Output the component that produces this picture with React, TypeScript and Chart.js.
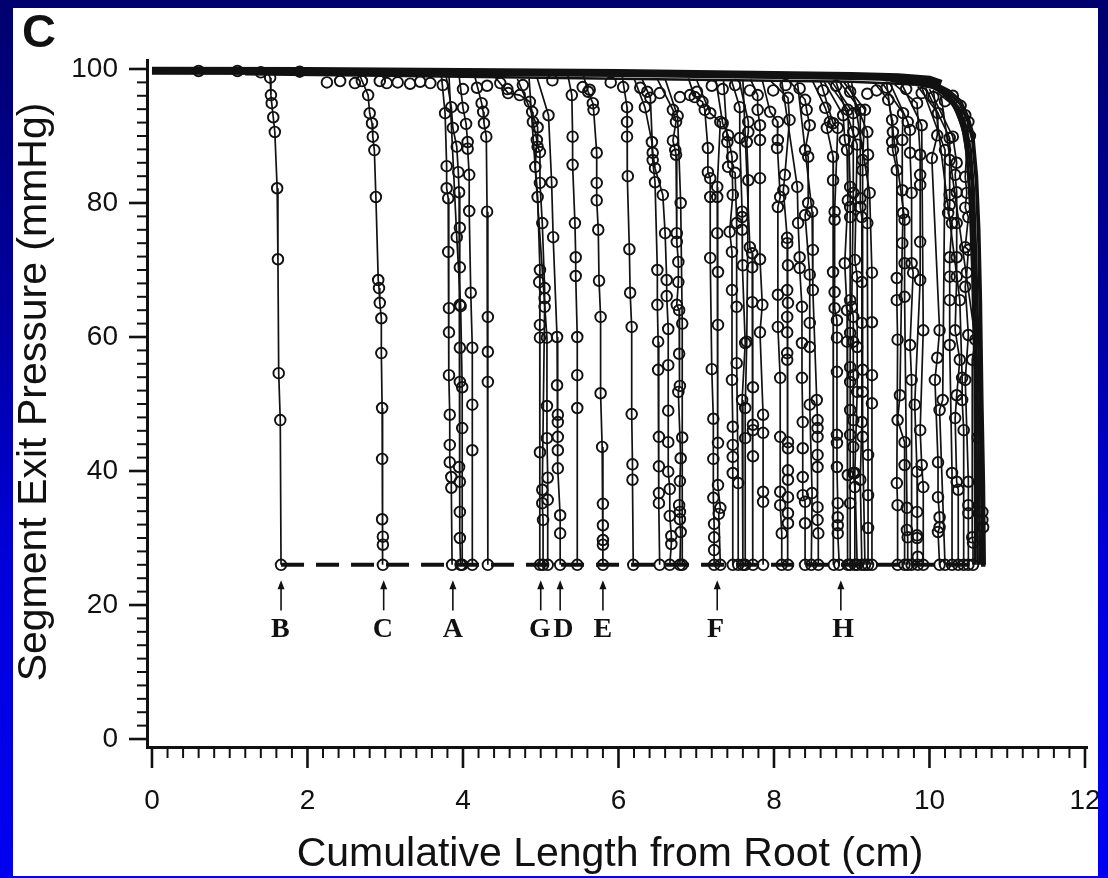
import React, { useEffect, useRef } from 'react';
import { Chart, registerables } from 'chart.js';
Chart.register(...registerables);

type Pt = [number, number];

const xTickLabels = [0, 2, 4, 6, 8, 10, 12];
const yTickLabels = [0, 20, 40, 60, 80, 100];
const xMinorStep = 0.2;
const yMinorStep = 2;

const arrowLetters = ['B', 'C', 'A', 'G', 'D', 'E', 'F', 'H'];
const arrowX = [1.66, 2.98, 3.87, 5.0, 5.25, 5.8, 7.27, 8.86];
const letterX = [1.65, 2.97, 3.87, 4.99, 5.29, 5.8, 7.25, 8.89];

const terminalPressure = 26;
const dashX = [1.66, 10.72];

// main trunk (root side), pressure ~100 mmHg
const trunk: Pt[] = [[0, 99.75], [2, 99.7], [4, 99.55], [6, 99.4], [8, 99.1], [9, 98.95], [9.6, 98.75], [10.0, 98.4], [10.15, 97.8]];
const trunkLower: Pt[] = [[1.2, 99.2], [3, 99.0], [5, 98.7], [7, 98.4], [9, 98.1], [9.8, 97.7]];
const trunkMarks: Pt[] = [
  [0.6, 99.7], [1.1, 99.7], [1.4, 99.5], [1.9, 99.6], [2.25, 98.0], [2.42, 98.2], [2.61, 97.9], [2.7, 98.2],
  [2.93, 98.2], [3.02, 97.9], [3.16, 98.0], [3.32, 97.8], [3.45, 98.1], [3.58, 97.9], [3.74, 97.6], [4.0, 97.0],
  [4.18, 97.2], [4.31, 97.5], [4.48, 97.9], [4.57, 97.0], [4.77, 97.6], [5.15, 98.3], [5.54, 97.3], [5.63, 96.9],
  [5.9, 98.0], [6.06, 97.3], [6.28, 97.2], [6.37, 96.6], [6.53, 96.4], [6.79, 95.8], [6.92, 96.1], [7.01, 96.6],
  [7.2, 97.5], [7.34, 97.0], [7.5, 97.6], [7.69, 96.8], [7.99, 96.8], [8.15, 97.6], [8.33, 97.1], [8.63, 96.8],
  [8.8, 97.5], [8.98, 96.6], [9.2, 96.3], [9.32, 96.8], [9.45, 97.2], [9.7, 97.0], [9.9, 96.4], [10.05, 95.8], [10.2, 95.2],
];

// terminal paths: first point joins the trunk, the rest are segment exit pressures
const groupBC: Pt[][] = [
  [[1.48, 99.7], [1.52, 98.7], [1.53, 96.1], [1.54, 94.9], [1.56, 92.8], [1.58, 90.6], [1.61, 82.2], [1.62, 71.6], [1.63, 54.6], [1.65, 47.6], [1.66, 26]],
  [[2.66, 99.4], [2.78, 96.1], [2.8, 93.4], [2.83, 91.9], [2.84, 89.9], [2.86, 87.9], [2.88, 80.9], [2.91, 68.5], [2.92, 67.3], [2.93, 65.1], [2.95, 62.8], [2.95, 57.6], [2.96, 49.4], [2.96, 41.8], [2.96, 32.8], [2.97, 30.2], [2.97, 29.0], [2.97, 26]],
];
const groupA: Pt[][] = [
  [[3.72, 99.3], [3.77, 93.4], [3.79, 85.5], [3.79, 82.2], [3.81, 80.7], [3.81, 72.7], [3.82, 64.3], [3.82, 60.7], [3.82, 54.3], [3.83, 48.4], [3.83, 43.9], [3.83, 41.3], [3.85, 39.1], [3.85, 37.5], [3.86, 26]],
  [[3.78, 99.2], [3.85, 94.3], [3.87, 91.2], [3.92, 88.4], [3.94, 84.6], [3.95, 81.6], [3.96, 76.3], [3.96, 70.4], [3.96, 64.8], [3.96, 58.4], [3.96, 53.3], [3.95, 40.6], [3.96, 38.4], [3.96, 33.9], [3.96, 30.0], [3.97, 26]],
  [[3.82, 99.0], [3.92, 74.9], [3.97, 64.6], [3.99, 52.5], [3.99, 46.4], [3.99, 26]],
  [[3.95, 99.0], [4.0, 94.2], [4.04, 91.8], [4.06, 89.1], [4.06, 88.1], [4.08, 84.2], [4.08, 78.8], [4.1, 66.6], [4.12, 58.4], [4.12, 49.9], [4.12, 43.1], [4.12, 26]],
  [[4.15, 99.0], [4.24, 94.9], [4.26, 93.6], [4.27, 91.9], [4.3, 89.9], [4.31, 78.7], [4.32, 63.0], [4.32, 57.8], [4.32, 53.3], [4.32, 26]],
];
const groupGDE: Pt[][] = [
  [[4.4, 99.0], [4.58, 96.4], [4.73, 96.1], [4.86, 95.1], [4.89, 93.6], [4.9, 92.1], [4.95, 89.4], [4.93, 85.4], [4.96, 80.9], [4.99, 70.0], [4.98, 68.2], [4.99, 61.8], [4.99, 59.9], [4.99, 42.8], [4.99, 26]],
  [[4.7, 98.5], [4.96, 91.3], [4.96, 88.4], [4.99, 87.6], [4.99, 83.0], [5.02, 77.0], [5.05, 67.3], [5.05, 65.8], [5.05, 64.5], [5.02, 37.2], [5.02, 35.2], [5.03, 32.7], [5.03, 26]],
  [[4.85, 98.6], [5.08, 59.9], [5.08, 49.7], [5.08, 44.9], [5.09, 39.0], [5.09, 35.7], [5.09, 26]],
  [[4.95, 98.8], [5.1, 93.1], [5.14, 83.1], [5.16, 74.9], [5.21, 60.0], [5.21, 52.8], [5.22, 48.4], [5.22, 47.3], [5.22, 45.1], [5.22, 43.1], [5.22, 40.4], [5.25, 33.4], [5.25, 30.7], [5.25, 26]],
  [[5.35, 99.0], [5.4, 96.1], [5.41, 89.9], [5.41, 85.7], [5.44, 77.0], [5.45, 71.9], [5.45, 69.1], [5.47, 60.0], [5.47, 54.3], [5.47, 49.4], [5.47, 26]],
  [[5.55, 99.0], [5.61, 96.6], [5.67, 94.9], [5.68, 93.9], [5.72, 87.5], [5.72, 83.0], [5.72, 80.4], [5.74, 76.0], [5.75, 68.4], [5.77, 63.0], [5.77, 51.6], [5.79, 43.6], [5.8, 35.1], [5.8, 31.9], [5.8, 29.7], [5.8, 29.0], [5.8, 26]],
];
const group6: Pt[][] = [
  [[6.05, 98.8], [6.11, 94.3], [6.11, 92.1], [6.11, 89.9], [6.12, 84.0], [6.14, 73.1], [6.15, 66.6], [6.17, 61.5], [6.17, 48.5], [6.18, 41.0], [6.18, 38.7], [6.19, 26]],
  [[6.2, 98.6], [6.34, 94.3], [6.43, 89.1], [6.44, 86.4], [6.47, 83.1], [6.5, 70.0], [6.5, 64.8], [6.51, 59.3], [6.51, 55.1], [6.52, 45.1], [6.52, 40.7], [6.52, 36.7], [6.52, 35.2], [6.53, 26]],
  [[6.3, 98.6], [6.41, 95.7], [6.44, 87.5], [6.47, 85.2], [6.57, 81.2], [6.6, 75.5], [6.62, 68.5], [6.62, 66.1], [6.64, 61.2], [6.64, 55.8], [6.64, 49.0], [6.64, 44.3], [6.64, 39.9], [6.66, 37.3], [6.66, 33.3], [6.68, 30.3], [6.68, 29.1], [6.66, 26]],
  [[6.5, 98.5], [6.7, 93.9], [6.74, 92.1], [6.7, 89.3], [6.73, 87.9], [6.74, 87.2], [6.75, 75.5], [6.75, 74.2], [6.77, 71.2], [6.77, 68.2], [6.75, 64.8], [6.78, 64.0], [6.78, 57.5], [6.79, 52.7], [6.77, 51.8], [6.8, 41.9], [6.79, 38.5], [6.78, 34.9], [6.79, 33.9], [6.79, 32.8], [6.8, 30.9], [6.79, 26]],
  [[6.6, 98.5], [6.76, 93.0], [6.8, 80.0], [6.82, 62.0], [6.82, 45.0], [6.82, 26]],
];
const group7: Pt[][] = [
  [[6.9, 98.6], [6.98, 95.8], [7.08, 95.1], [7.11, 93.9], [7.15, 88.2], [7.15, 84.6], [7.18, 83.7], [7.18, 80.9], [7.18, 71.8], [7.2, 55.2], [7.22, 47.8], [7.22, 41.8], [7.22, 36.0], [7.23, 32.1], [7.23, 30.1], [7.23, 28.2], [7.23, 26]],
  [[7.0, 98.5], [7.18, 93.4], [7.31, 92.1], [7.27, 82.4], [7.27, 80.9], [7.27, 75.5], [7.28, 69.7], [7.28, 61.8], [7.28, 44.2], [7.28, 37.9], [7.31, 34.5], [7.29, 33.6], [7.31, 26]],
  [[7.25, 98.5], [7.34, 91.9], [7.41, 90.1], [7.46, 86.9], [7.47, 81.2], [7.43, 75.7], [7.46, 72.7], [7.46, 67.0], [7.46, 53.6], [7.47, 46.6], [7.47, 43.9], [7.47, 42.1], [7.47, 39.7], [7.47, 26]],
  [[7.35, 98.5], [7.4, 89.1], [7.41, 85.4], [7.5, 84.5], [7.52, 77.0], [7.52, 64.5], [7.52, 56.1], [7.54, 38.2], [7.54, 26]],
  [[7.45, 98.4], [7.56, 94.3], [7.56, 89.7], [7.59, 78.7], [7.59, 77.9], [7.59, 76.0], [7.6, 70.7], [7.63, 59.1], [7.59, 50.6], [7.6, 26]],
  [[7.55, 98.4], [7.67, 92.1], [7.67, 90.6], [7.65, 89.1], [7.67, 83.4], [7.65, 59.3], [7.63, 49.4], [7.63, 44.9], [7.63, 26]],
  [[7.6, 98.4], [7.69, 73.4], [7.72, 72.5], [7.72, 70.4], [7.72, 65.2], [7.73, 52.5], [7.73, 46.9], [7.73, 46.1], [7.73, 42.2], [7.73, 26]],
  [[7.7, 98.4], [7.79, 96.1], [7.79, 93.9], [7.82, 91.6], [7.82, 89.4], [7.82, 83.7], [7.82, 71.6], [7.85, 64.8], [7.82, 60.7], [7.86, 48.4], [7.86, 45.7], [7.86, 36.9], [7.86, 35.4], [7.86, 26]],
];
const group8: Pt[][] = [
  [[7.85, 98.3], [7.95, 93.6], [8.05, 92.1], [8.05, 89.4], [8.04, 88.2], [8.08, 80.9], [8.05, 79.4], [8.05, 66.3], [8.05, 61.5], [8.08, 53.9], [8.08, 45.1], [8.08, 36.9], [8.08, 34.9], [8.1, 30.7], [8.1, 26]],
  [[7.95, 98.3], [8.18, 95.7], [8.2, 92.4], [8.14, 84.2], [8.12, 81.9], [8.17, 74.8], [8.17, 74.0], [8.18, 70.7], [8.17, 67.0], [8.18, 65.1], [8.17, 63.0], [8.17, 60.7], [8.17, 57.6], [8.17, 56.6], [8.18, 44.3], [8.18, 43.4], [8.18, 40.1], [8.18, 38.7], [8.18, 36.1], [8.18, 33.7], [8.18, 32.2], [8.18, 26]],
  [[8.1, 98.2], [8.3, 82.4], [8.31, 77.0], [8.33, 71.9], [8.33, 70.3], [8.36, 64.5], [8.36, 59.1], [8.36, 53.9], [8.37, 47.3], [8.37, 43.4], [8.37, 39.1], [8.37, 36.4], [8.4, 35.4], [8.4, 32.2], [8.4, 26]],
  [[8.2, 98.2], [8.4, 95.4], [8.42, 93.9], [8.46, 91.6], [8.4, 87.9], [8.44, 86.9], [8.44, 80.0], [8.4, 78.2], [8.46, 69.3], [8.46, 62.1], [8.46, 58.5], [8.46, 49.9], [8.49, 36.7], [8.48, 26]],
  [[8.3, 98.2], [8.49, 78.7], [8.5, 73.0], [8.5, 67.0], [8.55, 50.6], [8.56, 47.6], [8.56, 46.4], [8.56, 45.1], [8.56, 42.4], [8.56, 40.6], [8.56, 34.6], [8.56, 32.7], [8.57, 30.7], [8.57, 26]],
];
const group9: Pt[][] = [
  [[8.5, 98.1], [8.66, 94.2], [8.72, 92.1], [8.68, 91.2], [8.76, 86.9], [8.76, 83.4], [8.76, 69.7], [8.77, 26]],
  [[8.6, 98.1], [8.76, 91.9], [8.82, 91.2], [8.78, 78.7], [8.78, 77.5], [8.78, 66.7], [8.78, 64.3], [8.81, 62.5], [8.81, 59.9], [8.81, 54.8], [8.81, 45.4], [8.81, 44.2], [8.81, 40.6], [8.82, 35.2], [8.82, 33.1], [8.82, 31.9], [8.82, 30.7], [8.84, 26]],
  [[8.65, 98.0], [8.89, 93.1], [8.91, 89.4], [8.94, 87.9], [8.95, 80.4], [8.91, 71.0], [8.94, 64.0], [8.94, 59.3], [8.95, 39.4], [8.95, 26]],
  [[8.7, 98.0], [8.95, 93.9], [8.98, 82.4], [8.98, 79.4], [8.98, 77.9], [8.98, 65.5], [8.98, 60.6], [8.98, 55.5], [8.98, 53.3], [8.98, 49.1], [8.98, 45.4], [8.98, 35.2], [8.98, 26]],
  [[8.75, 98.0], [9.02, 93.4], [9.02, 90.6], [9.02, 81.5], [9.0, 64.5], [9.02, 63.0], [9.02, 59.3], [9.02, 54.3], [9.02, 47.6], [9.02, 43.6], [9.02, 39.7], [9.04, 37.6], [9.04, 26]],
  [[8.8, 98.0], [9.07, 88.7], [9.04, 71.5], [9.07, 69.0], [9.07, 58.5], [9.07, 51.8], [9.04, 39.7], [9.07, 26]],
  [[8.85, 98.0], [9.11, 93.9], [9.11, 80.7], [9.11, 79.4], [9.13, 77.9], [9.13, 68.2], [9.13, 62.1], [9.13, 47.3], [9.11, 38.7], [9.13, 26]],
  [[8.9, 98.0], [9.17, 93.9], [9.14, 86.4], [9.14, 84.9], [9.14, 55.1], [9.14, 51.8], [9.14, 45.1], [9.17, 26]],
  [[8.95, 97.9], [9.2, 90.6], [9.21, 87.2], [9.2, 77.0], [9.21, 42.4], [9.21, 36.4], [9.21, 31.5], [9.21, 26]],
  [[9.0, 97.9], [9.23, 81.5], [9.26, 69.6], [9.26, 62.2], [9.26, 54.3], [9.26, 50.1], [9.26, 26]],
];
const group10: Pt[][] = [
  [[9.3, 97.8], [9.47, 95.4], [9.52, 92.4], [9.53, 90.6], [9.52, 89.1], [9.53, 87.9], [9.58, 84.9], [9.58, 68.8], [9.58, 65.5], [9.59, 59.6], [9.58, 38.2], [9.59, 34.9], [9.59, 26]],
  [[9.4, 97.8], [9.66, 93.4], [9.65, 89.4], [9.65, 81.9], [9.66, 78.5], [9.65, 74.0], [9.62, 51.3], [9.59, 47.6], [9.68, 44.3], [9.68, 40.9], [9.68, 26]],
  [[9.45, 97.8], [9.68, 77.5], [9.68, 71.0], [9.68, 66.0], [9.71, 34.5], [9.71, 31.2], [9.72, 30.1], [9.72, 26]],
  [[9.5, 97.7], [9.72, 92.1], [9.75, 90.9], [9.75, 87.5], [9.77, 81.5], [9.77, 71.0], [9.79, 69.6], [9.75, 58.8], [9.77, 53.6], [9.77, 26]],
  [[9.55, 97.7], [9.84, 94.9], [9.88, 87.2], [9.88, 84.2], [9.88, 82.7], [9.88, 74.2], [9.88, 68.5], [9.81, 49.9], [9.84, 39.9], [9.84, 33.9], [9.84, 30.4], [9.84, 30.0], [9.85, 27.2], [9.85, 26]],
  [[9.65, 97.6], [9.9, 91.6], [9.92, 61.0], [9.88, 46.1], [9.9, 40.9], [9.92, 37.6], [9.92, 26]],
];
const group11: Pt[][] = [
  [[9.85, 97.4], [10.11, 93.4], [10.1, 90.1], [10.03, 86.7], [10.13, 61.0], [10.1, 56.9], [10.07, 53.6], [10.11, 41.3], [10.11, 36.1], [10.13, 33.1], [10.13, 31.6], [10.11, 30.9], [10.13, 26]],
  [[9.9, 97.3], [10.2, 87.9], [10.17, 50.6], [10.13, 49.1], [10.2, 26]],
  [[9.95, 97.2], [10.26, 89.7], [10.26, 86.4], [10.26, 81.2], [10.26, 79.7], [10.24, 78.5], [10.29, 77.0], [10.26, 71.9], [10.26, 69.0], [10.26, 65.5], [10.26, 58.8], [10.29, 39.7], [10.29, 26]],
  [[10.0, 97.0], [10.3, 89.9], [10.35, 86.0], [10.33, 84.2], [10.35, 81.6], [10.35, 77.0], [10.35, 71.9], [10.35, 69.0], [10.33, 61.0], [10.39, 56.6], [10.35, 51.3], [10.33, 47.9], [10.35, 38.4], [10.37, 37.2], [10.37, 26]],
  [[10.05, 96.9], [10.39, 65.5], [10.42, 53.9], [10.42, 50.6], [10.44, 46.1], [10.44, 26]],
  [[10.1, 96.5], [10.46, 93.1], [10.5, 92.1], [10.46, 83.9], [10.48, 81.5], [10.46, 79.3], [10.5, 77.9], [10.46, 73.4], [10.5, 73.0], [10.48, 69.6], [10.46, 67.5], [10.5, 60.3], [10.46, 53.6], [10.5, 38.4], [10.5, 34.9], [10.5, 33.7], [10.5, 26]],
  [[10.15, 96.0], [10.59, 59.6], [10.55, 56.6], [10.55, 30.1], [10.56, 29.3], [10.56, 26]],
];
// dense bundle of the longest paths (right-hand envelope)
const envelope: Pt[][] = [
  [[9.3, 98.9], [9.8, 98.6], [10.05, 98.0], [10.25, 96.8], [10.4, 95.3], [10.5, 92.8], [10.56, 90.4], [10.61, 84], [10.64, 76], [10.66, 66], [10.68, 50], [10.7, 38], [10.71, 26]],
  [[9.3, 98.7], [9.8, 98.4], [10.05, 97.8], [10.25, 96.4], [10.39, 94.8], [10.49, 92.2], [10.55, 89.5], [10.6, 83], [10.63, 74], [10.65, 62], [10.67, 46], [10.69, 26]],
  [[9.3, 98.6], [9.8, 98.2], [10.05, 97.5], [10.25, 96.0], [10.38, 94.2], [10.47, 91.5], [10.53, 88], [10.57, 82], [10.6, 72], [10.63, 58], [10.66, 42], [10.68, 26]],
  [[9.4, 98.4], [9.9, 97.9], [10.15, 96.8], [10.3, 95.0], [10.42, 92.5], [10.49, 89], [10.54, 84], [10.57, 75], [10.6, 60], [10.63, 45], [10.65, 26]],
  [[9.5, 98.2], [10.0, 97.5], [10.22, 96.0], [10.36, 93.5], [10.45, 90], [10.5, 85], [10.54, 78], [10.57, 65], [10.6, 50], [10.62, 26]],
  [[9.6, 98.1], [10.1, 97.1], [10.3, 94.8], [10.42, 91.5], [10.48, 87.5], [10.52, 80], [10.55, 70], [10.58, 55], [10.59, 26]],
];
const envelopeMarks: Pt[] = [[10.3, 96.0], [10.4, 94.5], [10.52, 90.0], [10.62, 45.0], [10.68, 33.9], [10.68, 32.7], [10.69, 31.6]];

const INK = '#111111';
const SANS = '"Liberation Sans", Arial, Helvetica, sans-serif';
const SERIF = '"Liberation Serif", "Times New Roman", serif';
const BORDER_STOPS: [number, string][] = [[0, '#00006e'], [0.35, '#0000a0'], [0.65, '#0000dc'], [1, '#0000f2']];

const toXY = (pts: Pt[]) => pts.map(([x, y]) => ({ x, y }));

const decor = {
  id: 'decor',
  beforeDraw(chart: any) {
    const ctx = chart.ctx;
    ctx.save();
    ctx.fillStyle = '#ffffff';
    ctx.fillRect(13, 8, 1085, 868);
    ctx.restore();
  },
  afterDraw(chart: any) {
    const { ctx, chartArea } = chart;
    const xs = chart.scales.x;
    const ys = chart.scales.y;
    ctx.save();
    ctx.strokeStyle = INK;
    const nx = Math.round((xTickLabels[xTickLabels.length - 1] - xTickLabels[0]) / xMinorStep);
    for (let i = 0; i <= nx; i++) {
      const v = xTickLabels[0] + i * xMinorStep;
      const major = xTickLabels.some((t) => Math.abs(t - v) < 1e-6);
      const px = xs.getPixelForValue(v);
      ctx.lineWidth = major ? 2.6 : 2;
      ctx.beginPath();
      ctx.moveTo(px, chartArea.bottom);
      ctx.lineTo(px, chartArea.bottom + (major ? 21 : 11));
      ctx.stroke();
    }
    const ny = Math.round((yTickLabels[yTickLabels.length - 1] - yTickLabels[0]) / yMinorStep);
    for (let i = 0; i <= ny; i++) {
      const v = yTickLabels[0] + i * yMinorStep;
      const major = yTickLabels.some((t) => Math.abs(t - v) < 1e-6);
      const py = ys.getPixelForValue(v);
      ctx.lineWidth = major ? 2.6 : 2;
      ctx.beginPath();
      ctx.moveTo(chartArea.left, py);
      ctx.lineTo(chartArea.left - (major ? 18 : 10), py);
      ctx.stroke();
    }
    ctx.fillStyle = INK;
    ctx.lineWidth = 1.6;
    const yTop = ys.getPixelForValue(23.7);
    const yBot = ys.getPixelForValue(19.2);
    arrowX.forEach((ax) => {
      const px = xs.getPixelForValue(ax);
      ctx.beginPath();
      ctx.moveTo(px, yBot);
      ctx.lineTo(px, yTop + 4);
      ctx.stroke();
      ctx.beginPath();
      ctx.moveTo(px, yTop);
      ctx.lineTo(px - 3.5, yTop + 9);
      ctx.lineTo(px + 3.5, yTop + 9);
      ctx.closePath();
      ctx.fill();
    });
    ctx.font = `bold 28px ${SERIF}`;
    ctx.textAlign = 'center';
    ctx.textBaseline = 'middle';
    const yLet = ys.getPixelForValue(16.3);
    arrowLetters.forEach((l, i) => {
      ctx.fillText(l, xs.getPixelForValue(letterX[i]), yLet);
    });
    ctx.fillStyle = '#111';
    ctx.font = `41px ${SANS}`;
    ctx.fillText('Cumulative Length from Root (cm)', 610, 855);
    ctx.save();
    ctx.translate(35, 392);
    ctx.rotate(-Math.PI / 2);
    ctx.fillText('Segment Exit Pressure (mmHg)', 0, 0);
    ctx.restore();
    ctx.font = `bold 47px ${SANS}`;
    ctx.textAlign = 'left';
    ctx.textBaseline = 'alphabetic';
    ctx.fillText('C', 22, 47);
    // right border strip clips anything past the white panel
    const g = ctx.createLinearGradient(0, 0, 0, 878);
    BORDER_STOPS.forEach(([o, c]) => g.addColorStop(o, c));
    ctx.fillStyle = g;
    ctx.fillRect(1098, 0, 10, 878);
    ctx.restore();
  },
};

export default function App() {
  const ref = useRef<HTMLCanvasElement>(null);
  useEffect(() => {
    const canvas = ref.current;
    if (!canvas) return;
    const branchDs = (pts: Pt[]) => ({
      data: toXY(pts),
      showLine: true,
      borderColor: INK,
      borderWidth: 1.7,
      pointRadius: pts.map((_, i) => (i === 0 ? 0 : 5.3)),
      pointBorderWidth: 1.9,
      pointBorderColor: INK,
      pointBackgroundColor: 'rgba(255,255,255,0)',
      pointHoverRadius: 0,
      tension: 0,
    });
    const lineDs = (pts: Pt[], width: number, dash?: number[]) => ({
      data: toXY(pts),
      showLine: true,
      borderColor: INK,
      borderWidth: width,
      borderDash: dash || [],
      pointRadius: 0,
      pointHoverRadius: 0,
      tension: 0,
    });
    const markDs = (pts: Pt[]) => ({
      data: toXY(pts),
      showLine: false,
      pointRadius: 5.3,
      pointBorderWidth: 1.9,
      pointBorderColor: INK,
      pointBackgroundColor: 'rgba(255,255,255,0)',
      pointHoverRadius: 0,
    });
    const groups = [groupBC, groupA, groupGDE, group6, group7, group8, group9, group10, group11];
    const datasets: any[] = [];
    datasets.push(lineDs(dashX.map((x) => [x, terminalPressure] as Pt), 4, [23, 12]));
    groups.forEach((g) => g.forEach((b) => datasets.push(branchDs(b))));
    envelope.forEach((e) => datasets.push(lineDs(e, 2.6)));
    datasets.push(markDs(envelopeMarks));
    datasets.push(markDs(trunkMarks));
    datasets.push(lineDs(trunkLower, 2.5));
    datasets.push(lineDs(trunk, 8));

    const chart = new Chart(canvas, {
      type: 'scatter',
      data: { datasets },
      options: {
        responsive: false,
        animation: false,
        devicePixelRatio: 1,
        layout: { padding: { top: 60, right: 21, left: 0, bottom: 0 } },
        plugins: { legend: { display: false }, tooltip: { enabled: false } },
        events: [],
        scales: {
          x: {
            type: 'linear',
            position: 'bottom',
            min: -0.064,
            max: 12.026,
            afterFit: (s: any) => { s.height = 131; s.paddingLeft = 0; s.paddingRight = 0; },
            afterBuildTicks: (s: any) => { s.ticks = xTickLabels.map((v) => ({ value: v })); },
            grid: { display: false, drawTicks: false },
            border: { display: true, color: INK, width: 3 },
            ticks: { padding: 37, color: '#111', font: { family: SANS, size: 28 }, maxRotation: 0, autoSkip: false },
          },
          y: {
            type: 'linear',
            position: 'left',
            min: -1.19,
            max: 101.34,
            afterFit: (s: any) => { s.width = 147; s.paddingTop = 0; s.paddingBottom = 0; },
            afterBuildTicks: (s: any) => { s.ticks = yTickLabels.map((v) => ({ value: v })); },
            grid: { display: false, drawTicks: false },
            border: { display: true, color: INK, width: 3 },
            ticks: { padding: 29, color: '#111', font: { family: SANS, size: 28 }, autoSkip: false },
          },
        },
      } as any,
      plugins: [decor],
    });
    return () => chart.destroy();
  }, []);
  return (
    <div
      style={{
        position: 'fixed',
        left: 0,
        top: 0,
        width: 1108,
        height: 878,
        background: 'linear-gradient(180deg, #00006e 0%, #0000a0 35%, #0000dc 65%, #0000f2 100%)',
      }}
    >
      <canvas ref={ref} width={1108} height={878} style={{ display: 'block', width: 1108, height: 878 }} />
    </div>
  );
}
